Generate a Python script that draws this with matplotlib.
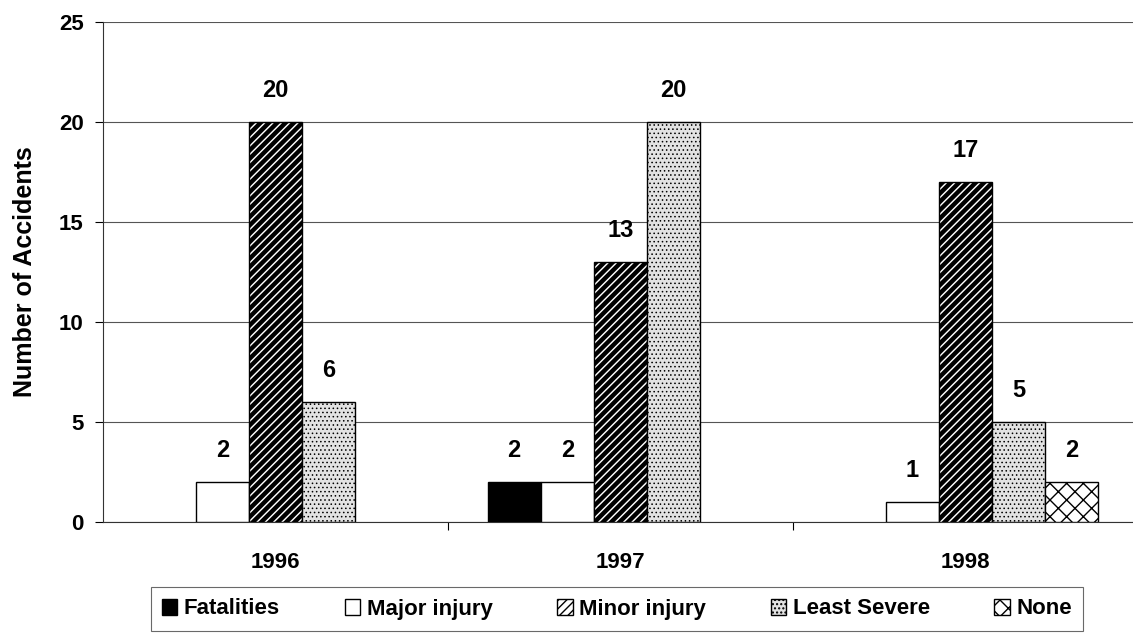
import numpy as np
import matplotlib.pyplot as plt

years = ['1996', '1997', '1998']
series = ['Fatalities', 'Major injury', 'Minor injury', 'Least Severe', 'None']
fatalities = [0, 2, 0]
major = [2, 2, 1]
minor = [20, 13, 17]
least = [6, 20, 5]
none = [0, 0, 2]

plt.rcParams['font.family'] = ['Liberation Sans', 'DejaVu Sans']
plt.rcParams['font.weight'] = 'bold'

values = [fatalities, major, minor, least, none]
faces = ['black', 'white', 'white', '#e2e2e2', 'white']
hatches = [None, None, '////', '....', 'xx']
hatch_lw = [1.0, 1.0, 3.2, 0.6, 1.0]

fig = plt.figure(figsize=(11.33, 6.35), dpi=100)
ax = fig.add_axes([103 / 1133, 113 / 635, 1030 / 1133, 500 / 635])

x = np.arange(len(years))
w = 0.154
for i, (name, vals) in enumerate(zip(series, values)):
    vals = np.array(vals, dtype=float)
    pos = x + (i - 2) * w
    shown = vals > 0
    plt.rcParams['hatch.linewidth'] = hatch_lw[i]
    # legend proxy drawn with no height, then the real non-zero bars
    ax.bar([0], [0], 0, color=faces[i], edgecolor='black', linewidth=1.0,
           hatch=hatches[i], label=name)
    bars = ax.bar(pos[shown], vals[shown], w, color=faces[i], edgecolor='black',
                  linewidth=1.0, hatch=hatches[i], zorder=3)
    for b, v in zip(bars, vals[shown]):
        ax.text(b.get_x() + b.get_width() / 2, v + 1.0, '%d' % v,
                ha='center', va='bottom', fontsize=17, fontweight='bold')

ax.set_ylim(0, 25)
ax.set_xlim(-0.5, 2.486)
ax.set_yticks([0, 5, 10, 15, 20, 25])
ax.yaxis.grid(True, color='#555555', linewidth=0.8, zorder=0)
ax.set_xticks([0.5, 1.5])
ax.set_xticklabels([])
ax.tick_params(axis='x', length=6, direction='out')
ax.tick_params(axis='y', length=6, labelsize=16, pad=8)
for i, yr in enumerate(years):
    ax.text(i, -1.5, yr, ha='center', va='top', fontsize=16, fontweight='bold')
for s in ['top', 'right']:
    ax.spines[s].set_visible(False)
ax.spines['left'].set_color('#333333')
ax.spines['bottom'].set_color('#333333')
ax.set_ylabel('Number of Accidents', fontsize=18, fontweight='bold', labelpad=16)

leg = fig.legend(loc='center', bbox_to_anchor=(617 / 1133, 1 - 609 / 635), ncol=5,
                 frameon=True, fancybox=False, edgecolor='#444444',
                 fontsize=16, handlelength=0.7, handleheight=0.7,
                 handletextpad=0.3, columnspacing=2.9, borderpad=0.5)
leg.get_frame().set_linewidth(0.8)

fig.savefig('out.png', dpi=100)
